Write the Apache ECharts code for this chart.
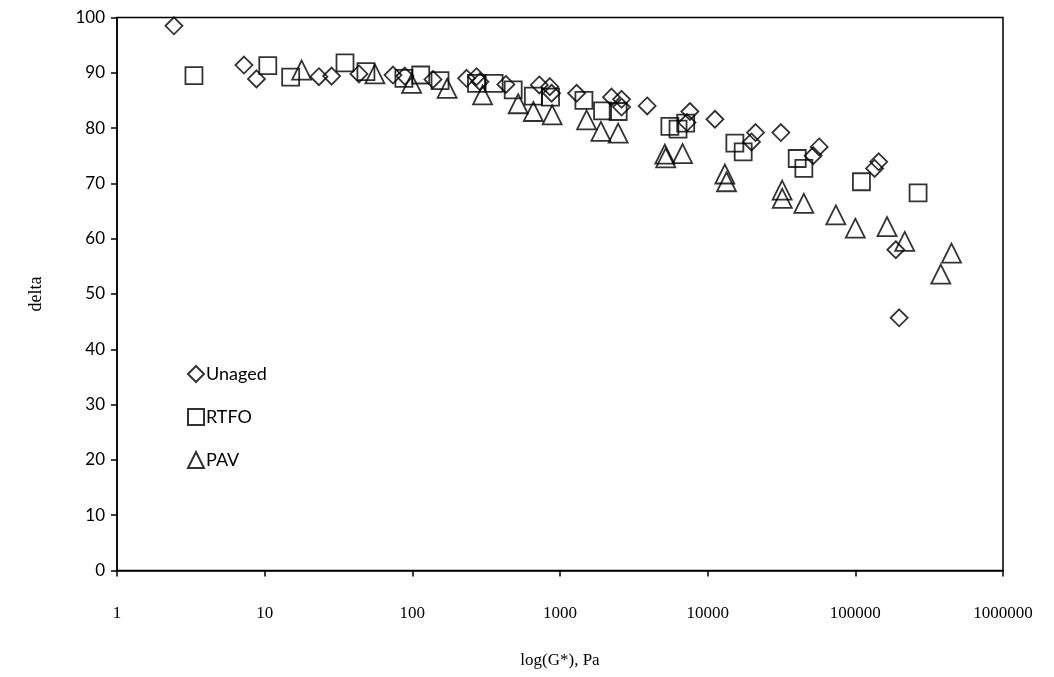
<!DOCTYPE html>
<html>
<head>
<meta charset="utf-8">
<script src="https://cdn.jsdelivr.net/npm/echarts@6/dist/echarts.min.js"></script>
<style>html,body{margin:0;padding:0;background:#fff;}#c{width:1054px;height:677px;}</style>
</head>
<body>
<div id="c"></div>
<script>
var seriesNames = ['Unaged', 'RTFO', 'PAV'];
var unaged = [[2.43,98.5],[7.24,91.4],[8.8,88.9],[23.3,89.3],[28.4,89.4],[43.5,89.8],[74,89.6],[89,89.4],[138,88.8],[233,89.0],[272,89.3],[287,88.4],[430,87.9],[724,87.8],[853,87.5],[877,86.3],[1295,86.3],[2233,85.6],[2612,85.2],[2612,83.8],[3893,84.0],[7580,83.0],[7250,81.0],[11200,81.6],[19800,77.5],[21100,79.2],[31300,79.2],[51800,75.0],[56900,76.6],[135000,72.7],[144000,73.9],[188000,58.0],[198000,45.7]];
var rtfo = [[3.32,89.5],[10.5,91.3],[15.0,89.2],[35,91.8],[48.5,90.2],[87.7,89.0],[114,89.6],[154,88.6],[272,88.1],[358,88.1],[482,86.9],[660,85.8],[863,85.6],[1452,85.0],[1942,83.1],[2477,83.0],[5548,80.3],[6300,79.8],[7100,80.9],[15280,77.3],[17400,75.7],[40400,74.5],[44800,72.7],[110000,70.3],[266000,68.3]];
var pav = [[17.8,90.5],[55.8,89.8],[98.9,88.1],[172,87.2],[299,86.0],[521,84.4],[660,83.0],[885,82.4],[1514,81.5],[1892,79.4],[2477,79.1],[5130,75.3],[5200,74.6],[6760,75.4],[13070,71.7],[13420,70.3],[31940,68.8],[32000,67.3],[44800,66.4],[73800,64.3],[100000,61.9],[164000,62.2],[216000,59.5],[379000,53.6],[448000,57.4]];
var xTickLabels = ['1','10','100','1000','10000','100000','1000000'];
var yTickLabels = ['0','10','20','30','40','50','60','70','80','90','100'];

var chart = echarts.init(document.getElementById('c'));
function mk(name, data, symbol, size) {
  return {
    name: name, type: 'scatter', data: data, symbol: symbol, symbolSize: size,
    itemStyle: { color: 'rgba(0,0,0,0)', borderColor: '#000', borderWidth: 1.8 },
    emphasis: { disabled: true }, animation: false
  };
}
chart.setOption({
  backgroundColor: '#fff',
  animation: false,
  grid: { left: 117, right: 51, top: 17.5, bottom: 106.5, show: true, borderColor: '#000', borderWidth: 1.5, backgroundColor: 'transparent' },
  legend: {
    orient: 'vertical', left: 182, top: 360, itemGap: 25, itemWidth: 16, itemHeight: 16,
    data: seriesNames, textStyle: { fontFamily: 'Lato, "Open Sans", sans-serif', fontSize: 18, color: '#000', padding: [0,0,0,-3] }
  },
  xAxis: {
    type: 'log', logBase: 10, min: 1, max: 1000000,
    name: 'log(G*), Pa', nameLocation: 'middle', nameGap: 82,
    nameTextStyle: { fontFamily: '"Liberation Serif", "Times New Roman", serif', fontSize: 17, color: '#000' },
    axisLine: { lineStyle: { color: '#000', width: 1.5 } },
    axisTick: { show: true, inside: false, length: 6, lineStyle: { color: '#000', width: 1.5 } },
    minorTick: { show: false },
    axisLabel: { margin: 35, color: '#000', fontFamily: '"Liberation Serif", "Times New Roman", serif', fontSize: 17,
      formatter: function (v) { var i = Math.round(Math.log10(v)); return xTickLabels[i]; } },
    splitLine: { show: false }
  },
  yAxis: {
    type: 'value', min: 0, max: 100, interval: 10,
    name: 'delta', nameLocation: 'middle', nameGap: 72, nameRotate: 90,
    nameTextStyle: { fontFamily: '"Liberation Serif", "Times New Roman", serif', fontSize: 18, color: '#000' },
    axisLine: { show: true, lineStyle: { color: '#000', width: 1.5 } },
    axisTick: { show: true, inside: false, length: 6, lineStyle: { color: '#000', width: 1.5 } },
    axisLabel: { margin: 12, color: '#000', fontFamily: 'Lato, "Open Sans", sans-serif', fontSize: 17,
      formatter: function (v) { return yTickLabels[Math.round(v / 10)]; } },
    splitLine: { show: false }
  },
  series: [
    mk(seriesNames[0], unaged, 'diamond', 17),
    mk(seriesNames[1], rtfo, 'rect', 17),
    mk(seriesNames[2], pav, 'triangle', 19)
  ]
});
</script>
</body>
</html>
